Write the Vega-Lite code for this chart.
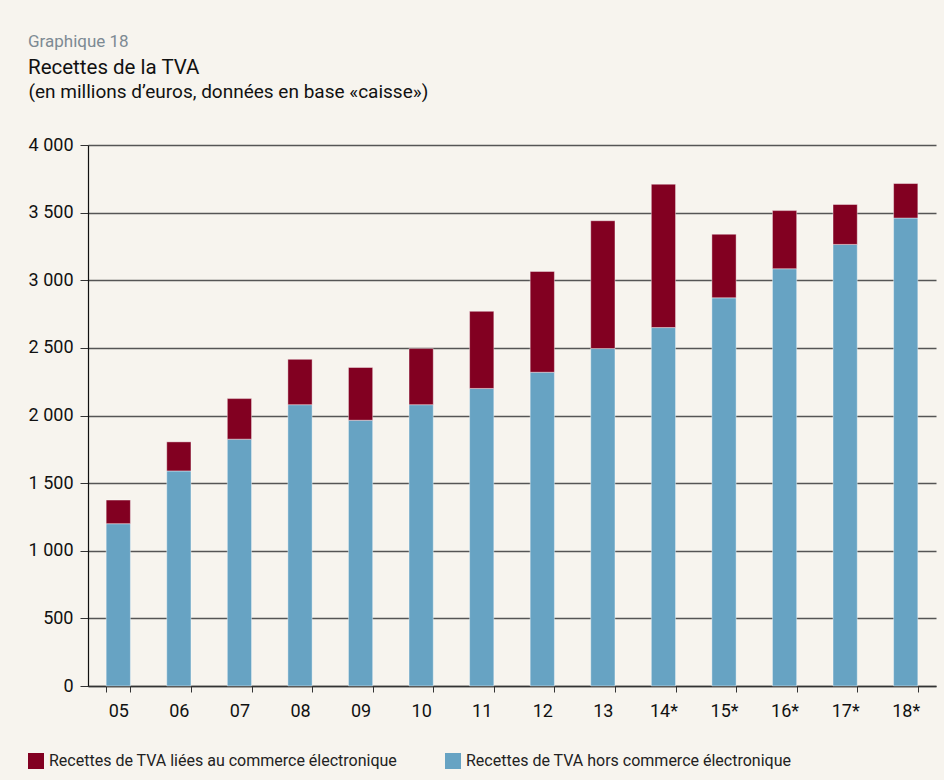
{
  "$schema": "https://vega.github.io/schema/vega-lite/v6.json",
  "autosize": "none",
  "width": 848,
  "height": 541,
  "padding": {"left": 88, "top": 145, "right": 8, "bottom": 94},
  "background": "#f7f4ee",
  "title": {
    "text": "Graphique 18",
    "subtitle": "Recettes de la TVA",
    "anchor": "start",
    "frame": "bounds",
    "font": "Roboto",
    "fontSize": 17,
    "fontWeight": "normal",
    "color": "#7d8a93",
    "subtitleFont": "Roboto",
    "subtitleFontSize": 20.5,
    "subtitleColor": "#111111",
    "subtitlePadding": 7,
    "offset": 3
  },
  "data": {
    "values": [
      {"annee": "05", "type": "Recettes de TVA hors commerce électronique", "valeur": 1200},
      {"annee": "05", "type": "Recettes de TVA liées au commerce électronique", "valeur": 175},
      {"annee": "06", "type": "Recettes de TVA hors commerce électronique", "valeur": 1590},
      {"annee": "06", "type": "Recettes de TVA liées au commerce électronique", "valeur": 215},
      {"annee": "07", "type": "Recettes de TVA hors commerce électronique", "valeur": 1825},
      {"annee": "07", "type": "Recettes de TVA liées au commerce électronique", "valeur": 300},
      {"annee": "08", "type": "Recettes de TVA hors commerce électronique", "valeur": 2080},
      {"annee": "08", "type": "Recettes de TVA liées au commerce électronique", "valeur": 335},
      {"annee": "09", "type": "Recettes de TVA hors commerce électronique", "valeur": 1965},
      {"annee": "09", "type": "Recettes de TVA liées au commerce électronique", "valeur": 390},
      {"annee": "10", "type": "Recettes de TVA hors commerce électronique", "valeur": 2080},
      {"annee": "10", "type": "Recettes de TVA liées au commerce électronique", "valeur": 415},
      {"annee": "11", "type": "Recettes de TVA hors commerce électronique", "valeur": 2200},
      {"annee": "11", "type": "Recettes de TVA liées au commerce électronique", "valeur": 570},
      {"annee": "12", "type": "Recettes de TVA hors commerce électronique", "valeur": 2320},
      {"annee": "12", "type": "Recettes de TVA liées au commerce électronique", "valeur": 745},
      {"annee": "13", "type": "Recettes de TVA hors commerce électronique", "valeur": 2495},
      {"annee": "13", "type": "Recettes de TVA liées au commerce électronique", "valeur": 945},
      {"annee": "14*", "type": "Recettes de TVA hors commerce électronique", "valeur": 2650},
      {"annee": "14*", "type": "Recettes de TVA liées au commerce électronique", "valeur": 1060},
      {"annee": "15*", "type": "Recettes de TVA hors commerce électronique", "valeur": 2870},
      {"annee": "15*", "type": "Recettes de TVA liées au commerce électronique", "valeur": 470},
      {"annee": "16*", "type": "Recettes de TVA hors commerce électronique", "valeur": 3085},
      {"annee": "16*", "type": "Recettes de TVA liées au commerce électronique", "valeur": 430},
      {"annee": "17*", "type": "Recettes de TVA hors commerce électronique", "valeur": 3265},
      {"annee": "17*", "type": "Recettes de TVA liées au commerce électronique", "valeur": 295},
      {"annee": "18*", "type": "Recettes de TVA hors commerce électronique", "valeur": 3460},
      {"annee": "18*", "type": "Recettes de TVA liées au commerce électronique", "valeur": 255}
    ]
  },
  "mark": {"type": "bar", "stroke": "#ffffff", "strokeWidth": 0.8, "strokeOpacity": 0.5},
  "encoding": {
    "x": {
      "field": "annee",
      "type": "nominal",
      "sort": null,
      "scale": {"paddingInner": 0.6, "paddingOuter": 0.3},
      "axis": {
        "title": null,
        "labelAngle": 0,
        "labelFont": "Roboto",
        "labelFontSize": 18,
        "labelColor": "#111111",
        "labelPadding": 10,
        "tickBand": "extent",
        "tickSize": 6,
        "tickColor": "#333333",
        "domainColor": "#333333",
        "domainWidth": 1.5,
        "grid": false
      }
    },
    "y": {
      "field": "valeur",
      "type": "quantitative",
      "stack": "zero",
      "scale": {"domain": [0, 4000], "nice": false},
      "axis": {
        "title": "(en millions d’euros, données en base «caisse»)",
        "titleAngle": 0,
        "titleAlign": "left",
        "titleBaseline": "alphabetic",
        "titleX": -60,
        "titleY": -48,
        "titleFont": "Roboto",
        "titleFontSize": 19,
        "titleFontWeight": "normal",
        "titleColor": "#111111",
        "values": [0, 500, 1000, 1500, 2000, 2500, 3000, 3500, 4000],
        "labelExpr": "replace(format(datum.value, ','), ',', ' ')",
        "labelFont": "Roboto",
        "labelFontSize": 18,
        "labelColor": "#111111",
        "labelPadding": 7,
        "tickSize": 8,
        "tickColor": "#333333",
        "domainColor": "#111111",
        "domainWidth": 1.2,
        "grid": true,
        "gridColor": "#555555",
        "gridWidth": 1.3
      }
    },
    "color": {
      "field": "type",
      "type": "nominal",
      "scale": {
        "domain": ["Recettes de TVA liées au commerce électronique", "Recettes de TVA hors commerce électronique"],
        "range": ["#820021", "#67a3c3"]
      },
      "legend": {
        "title": null,
        "orient": "none",
        "legendX": -60,
        "legendY": 608,
        "direction": "horizontal",
        "columns": 2,
        "columnPadding": 47,
        "symbolType": "square",
        "symbolSize": 256,
        "symbolStrokeWidth": 0,
        "symbolOpacity": 1,
        "labelFont": "Roboto",
        "labelFontSize": 16,
        "labelColor": "#222222",
        "labelOffset": 5,
        "labelLimit": 500
      }
    },
    "order": {"field": "type", "sort": "ascending"}
  },
  "config": {
    "view": {"stroke": null}
  }
}
